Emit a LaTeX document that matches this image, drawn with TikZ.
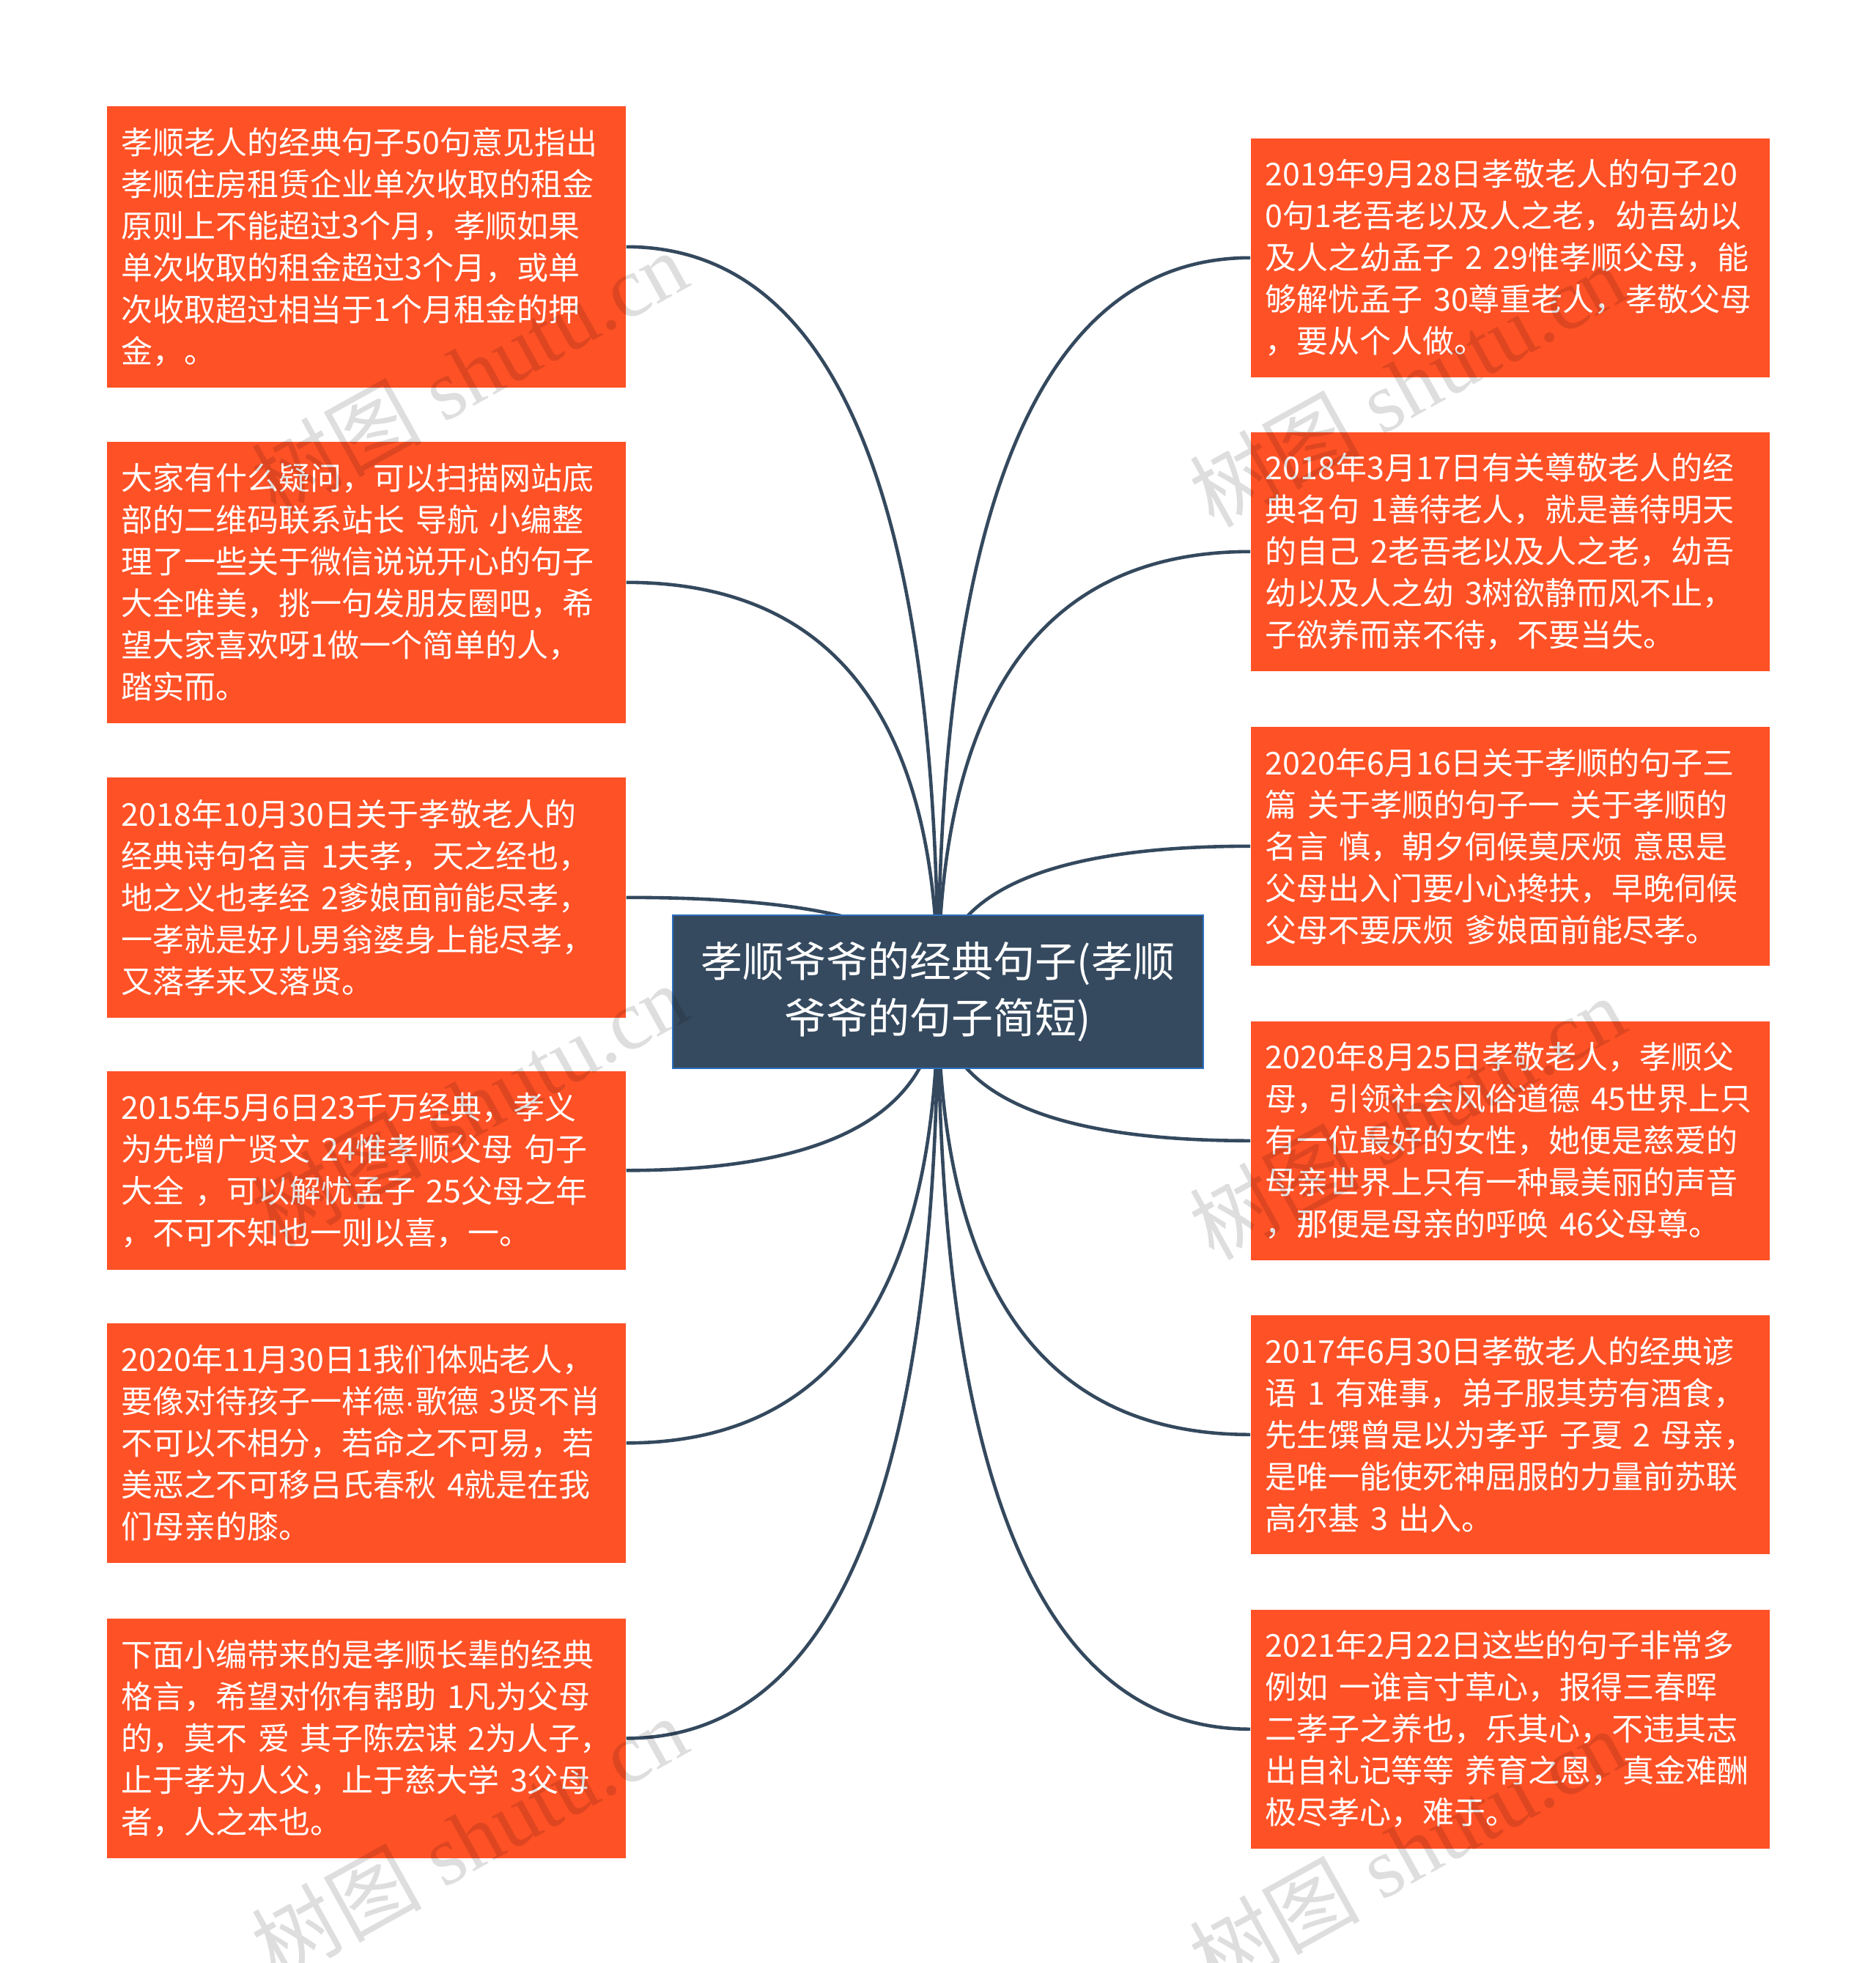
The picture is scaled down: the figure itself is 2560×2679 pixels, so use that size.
\documentclass[tikz,border=0pt]{standalone}
\usepackage{fontspec}
\setmainfont{Liberation Serif}
\newfontfamily\cjk{Noto Sans CJK SC}
\newfontfamily\latinsans{Liberation Sans}
\usetikzlibrary{calc,backgrounds}
\definecolor{boxfill}{HTML}{FF5126}
\definecolor{ctrfill}{HTML}{354A5F}
\definecolor{ctrborder}{HTML}{2D6FC0}
\definecolor{linkcol}{HTML}{34495E}
\tikzset{
  leaf/.style={fill=boxfill, text=white, font=\cjk\fontsize{10.75}{14.25}\selectfont,
    align=left, text width=167pt, inner xsep=5pt, inner ysep=0pt,
    minimum width=177pt, anchor=north west},
  ctrnode/.style={fill=ctrfill, draw=ctrborder, line width=0.6pt, text=white,
    font=\cjk\fontsize{14.25}{19.25}\selectfont, align=center,
    minimum width=181pt, minimum height=52.25pt, inner sep=0pt},
  link/.style={draw=linkcol, line width=1.15pt},
  wm/.style={rotate=29, text=black, opacity=0.13, font=\fontsize{29}{29}\selectfont}
}
\begin{document}
\begin{tikzpicture}[x=0.25pt,y=-0.25pt]
\useasboundingbox (0,0) rectangle (2560,2679);

\node[leaf, minimum height=96pt] (L1) at (145,144) {孝顺老人的经典句子50句意见指出\\
孝顺住房租赁企业单次收取的租金\\
原则上不能超过3个月，孝顺如果\\
单次收取的租金超过3个月，或单\\
次收取超过相当于1个月租金的押\\
金，。};
\node[leaf, minimum height=96pt] (L2) at (145,602) {大家有什么疑问，可以扫描网站底\\
部的二维码联系站长~导航~小编整\\
理了一些关于微信说说开心的句子\\
大全唯美，挑一句发朋友圈吧，希\\
望大家喜欢呀1做一个简单的人，\\
踏实而。};
\node[leaf, minimum height=82pt] (L3) at (145,1060) {2018年10月30日关于孝敬老人的\\
经典诗句名言~1夫孝，天之经也，\\
地之义也孝经~2爹娘面前能尽孝，\\
一孝就是好儿男翁婆身上能尽孝，\\
又落孝来又落贤。};
\node[leaf, minimum height=67.75pt] (L4) at (145,1461) {2015年5月6日23千万经典，孝义\\
为先增广贤文~24惟孝顺父母~句子\\
大全~，可以解忧孟子~25父母之年\\
，不可不知也一则以喜，一。};
\node[leaf, minimum height=81.75pt] (L5) at (145,1805) {2020年11月30日1我们体贴老人，\\
要像对待孩子一样德{\latinsans ·}歌德~3贤不肖\\
不可以不相分，若命之不可易，若\\
美恶之不可移吕氏春秋~4就是在我\\
们母亲的膝。};
\node[leaf, minimum height=81.75pt] (L6) at (145,2208) {下面小编带来的是孝顺长辈的经典\\
格言，希望对你有帮助~1凡为父母\\
的，莫不~爱~其子陈宏谋~2为人子，\\
止于孝为人父，止于慈大学~3父母\\
者，人之本也。};

\node[leaf, minimum height=81.5pt] (R1) at (1706,188) {2019年9月28日孝敬老人的句子20\\
0句1老吾老以及人之老，幼吾幼以\\
及人之幼孟子~2~29惟孝顺父母，能\\
够解忧孟子~30尊重老人，孝敬父母\\
，要从个人做。};
\node[leaf, minimum height=81.5pt] (R2) at (1706,589) {2018年3月17日有关尊敬老人的经\\
典名句~1善待老人，就是善待明天\\
的自己~2老吾老以及人之老，幼吾\\
幼以及人之幼~3树欲静而风不止，\\
子欲养而亲不待，不要当失。};
\node[leaf, minimum height=81.5pt] (R3) at (1706,991) {2020年6月16日关于孝顺的句子三\\
篇~关于孝顺的句子一~关于孝顺的\\
名言~慎，朝夕伺候莫厌烦~意思是\\
父母出入门要小心搀扶，早晚伺候\\
父母不要厌烦~爹娘面前能尽孝。};
\node[leaf, minimum height=81.5pt] (R4) at (1706,1393) {2020年8月25日孝敬老人，孝顺父\\
母，引领社会风俗道德~45世界上只\\
有一位最好的女性，她便是慈爱的\\
母亲世界上只有一种最美丽的声音\\
，那便是母亲的呼唤~46父母尊。};
\node[leaf, minimum height=81.5pt] (R5) at (1706,1794) {2017年6月30日孝敬老人的经典谚\\
语~1~有难事，弟子服其劳有酒食，\\
先生馔曾是以为孝乎~子夏~2~母亲，\\
是唯一能使死神屈服的力量前苏联\\
高尔基~3~出入。};
\node[leaf, minimum height=81.5pt] (R6) at (1706,2196) {2021年2月22日这些的句子非常多\\
例如~一谁言寸草心，报得三春晖\\
二孝子之养也，乐其心，不违其志\\
出自礼记等等~养育之恩，真金难酬\\
极尽孝心，难于。};

\node[ctrnode] (ctr) at (1280,1353.5) {孝顺爷爷的经典句子(孝顺\\爷爷的句子简短)};

\begin{scope}[on background layer]
\fill[white] (0,0) rectangle (2560,2679);
\foreach \n in {L1,L2,L3,L4,L5,L6}
  \draw[link] (ctr.center) .. controls ($(ctr.center)!0.6667!(ctr.center|-\n.east)$) and ($(\n.east)!0.6667!(ctr.center|-\n.east)$) .. (\n.east);
\foreach \n in {R1,R2,R3,R4,R5,R6}
  \draw[link] (ctr.center) .. controls ($(ctr.center)!0.6667!(ctr.center|-\n.west)$) and ($(\n.west)!0.6667!(ctr.center|-\n.west)$) .. (\n.west);
\end{scope}

\node[wm] (wm1) at (640,508) {{\cjk 树图} shutu.cn};
\node[wm] (wm2) at (1920,525) {{\cjk 树图} shutu.cn};
\node[wm] (wm3) at (640,1508) {{\cjk 树图} shutu.cn};
\node[wm] (wm4) at (1920,1525) {{\cjk 树图} shutu.cn};
\node[wm] (wm5) at (640,2508) {{\cjk 树图} shutu.cn};
\node[wm] (wm6) at (1920,2525) {{\cjk 树图} shutu.cn};
\end{tikzpicture}
\end{document}
